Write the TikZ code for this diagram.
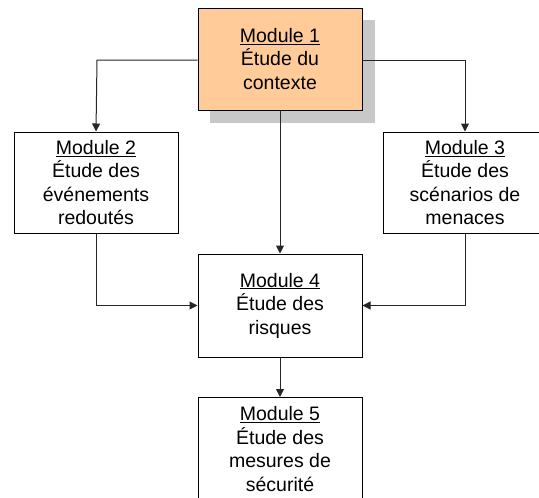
\documentclass[tikz,border=0pt]{standalone}
\usepackage{fontspec}
\setmainfont{Liberation Sans}
\usetikzlibrary{arrows.meta}
\definecolor{peach}{HTML}{FFCC99}
\definecolor{shadowgray}{HTML}{C8C8C8}
\tikzset{
  module/.style={draw=black, line width=1pt, fill=white, minimum width=164pt, align=center,
    font=\fontsize{19.5}{23.5}\selectfont, inner sep=0pt},
  conn/.style={draw=black!85, line width=1pt, -{Triangle[width=8pt,length=8pt]}}
}
\begin{document}
\begin{tikzpicture}[x=1pt,y=-1pt]
\useasboundingbox (0,0) rectangle (539,498);
\clip (0,0) rectangle (539,498);
\fill[shadowgray] (210,20) rectangle (375,123);
\node[module, fill=peach, minimum height=102pt] (m1) at (280,59) {\underline{Module 1}\\Étude du\\contexte};
\node[module, minimum height=101pt] (m2) at (96,182.5) {\underline{Module 2}\\Étude des\\événements\\redoutés};
\node[module, minimum height=101pt] (m3) at (465,182.5) {\underline{Module 3}\\Étude des\\scénarios de\\menaces};
\node[module, minimum height=103pt] (m4) at (280,305.5) {\underline{Module 4}\\Étude des\\risques};
\node[module, minimum height=103pt, anchor=north] (m5) at (280,397) {\underline{Module 5}\\Étude des\\mesures de\\sécurité};
\coordinate (c1) at (97,60);
\coordinate (c2) at (465,60);
\draw[conn] (m1.west |- c1) -- (c1) -- (m2.north);
\draw[conn] (m1.east |- c2) -- (c2) -- (m3.north);
\draw[conn] (m1.south) -- (m4.north);
\draw[conn] (m2.south) |- (m4.west);
\draw[conn] (m3.south) |- (m4.east);
\draw[conn] (m4.south) -- (m5.north);
\end{tikzpicture}
\end{document}
